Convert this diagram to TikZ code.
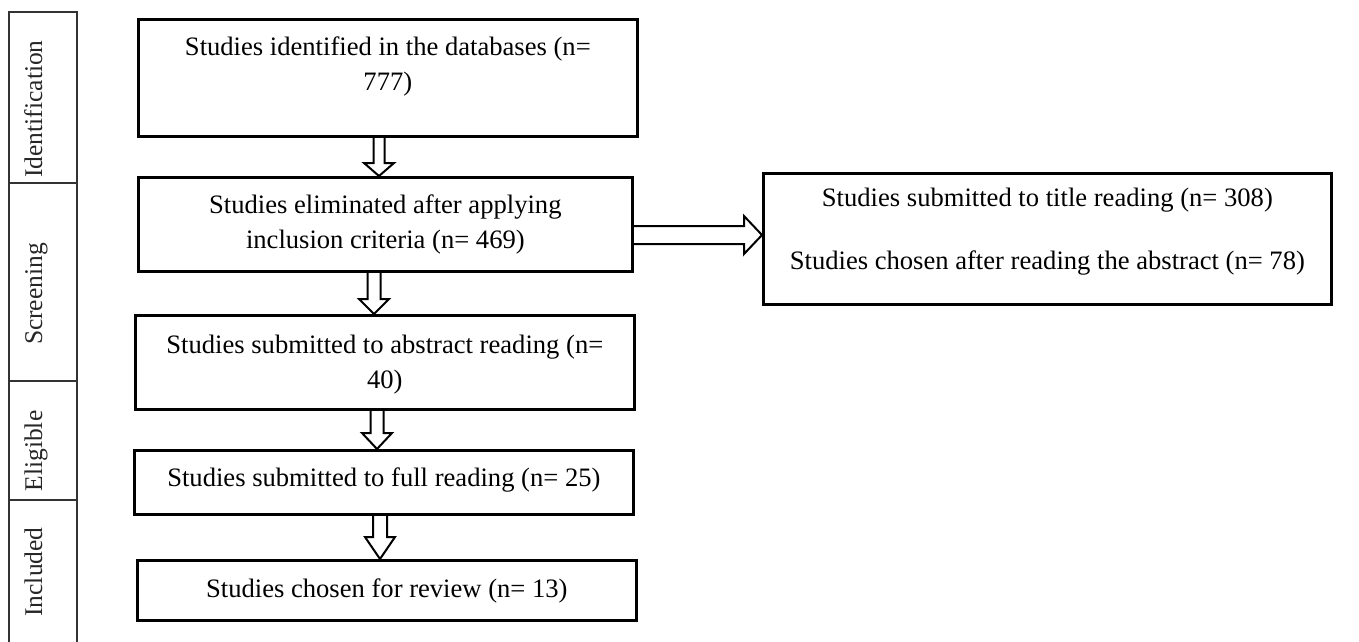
\documentclass[tikz,border=0pt]{standalone}
\usepackage{fontspec}
\setmainfont{Liberation Serif}
\usetikzlibrary{calc}
\newcommand\boxtext[4]{\parbox[c][#2pt][t]{#1pt}{\centering\fontsize{26.6}{35.5}\selectfont\rule{0pt}{#3pt}#4\par}}
\newcommand\vblockarrow[6]{%
  \draw[blockarr] let \p1=(#2.south), \p2=(#3.north) in
    (#1pt-#4pt,\y1) -- (#1pt-#4pt,\y2+#6pt) -- (#1pt-#5pt,\y2+#6pt) -- (#1pt,\y2)
    -- (#1pt+#5pt,\y2+#6pt) -- (#1pt+#4pt,\y2+#6pt) -- (#1pt+#4pt,\y1);}
\tikzset{
  flowbox/.style={draw=black, line width=2.7pt, inner sep=0pt, anchor=north west},
  blockarr/.style={draw=black, line width=2pt, line join=miter},
  sideline/.style={draw=black!80, line width=1.3pt},
  sidelabel/.style={rotate=90, anchor=base, inner sep=0pt, text=black!85, font=\fontsize{25.5}{30}\selectfont}
}
\begin{document}
\begin{tikzpicture}[x=1pt,y=-1pt]
\useasboundingbox (0,0) rectangle (1359,641);
% sidebar
\draw[sideline] (9,650) -- (9,12) -- (77,12) -- (77,650);
\draw[sideline] (9,183) -- (77,183);
\draw[sideline] (9,381) -- (77,381);
\draw[sideline] (9,500) -- (77,500);
\node[sidelabel] (lid) at (42,109) {Identification};
\node[sidelabel] (lsc) at (42,294) {Screening};
\node[sidelabel] (lel) at (42,451) {Eligible};
\node[sidelabel] (lin) at (42,572) {Included};
% boxes
\node[flowbox] (B1) at (137,18) {\boxtext{499}{117}{36}{Studies identified in the databases (n=\\777)}};
\node[flowbox] (B2) at (137,176) {\boxtext{494}{94}{36}{Studies eliminated after applying\\inclusion criteria (n= 469)}};
\node[flowbox] (B3) at (134,314) {\boxtext{499}{94}{38}{Studies submitted to abstract reading (n=\\40)}};
\node[flowbox] (B4) at (133,449) {\boxtext{499}{64}{36}{Studies submitted to full reading (n= 25)}};
\node[flowbox] (B5) at (136,559) {\boxtext{499}{60}{37}{Studies chosen for review (n= 13)}};
\node[flowbox] (R) at (762,172) {\boxtext{568}{131}{33}{Studies submitted to title reading (n= 308)\\[27.5pt]Studies chosen after reading the abstract (n= 78)}};
% arrows
\vblockarrow{379}{B1}{B2}{5.5}{15}{13}
\vblockarrow{374}{B2}{B3}{6.5}{15}{15}
\vblockarrow{377}{B3}{B4}{6.5}{15}{16}
\vblockarrow{380}{B4}{B5}{7}{15}{22}
\draw[blockarr] let \p1=(B2.east), \p2=(R.west) in
  (\x1,-226pt) -- (\x2-18pt,-226pt) -- (\x2-18pt,-216pt) -- (\x2,-235pt)
  -- (\x2-18pt,-254pt) -- (\x2-18pt,-244pt) -- (\x1,-244pt);
\end{tikzpicture}
\end{document}
